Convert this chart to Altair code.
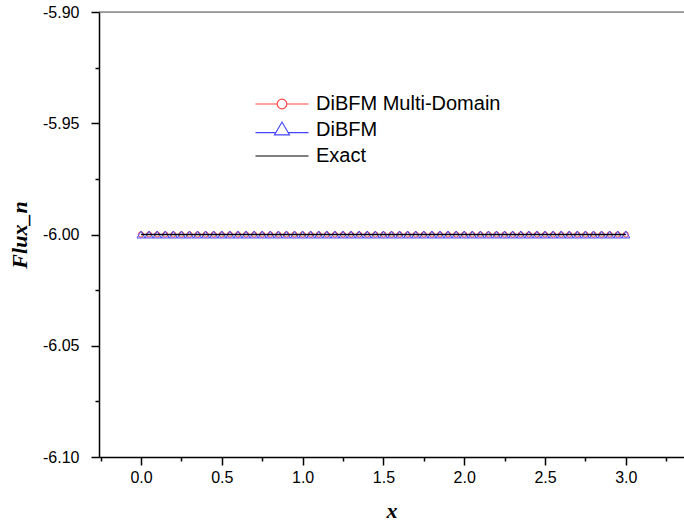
import altair as alt
import pandas as pd

# ---- data ----
x_vals = [0.00, 0.05, 0.10, 0.15, 0.20, 0.25, 0.30, 0.35, 0.40, 0.45,
          0.50, 0.55, 0.60, 0.65, 0.70, 0.75, 0.80, 0.85, 0.90, 0.95,
          1.00, 1.05, 1.10, 1.15, 1.20, 1.25, 1.30, 1.35, 1.40, 1.45,
          1.50, 1.55, 1.60, 1.65, 1.70, 1.75, 1.80, 1.85, 1.90, 1.95,
          2.00, 2.05, 2.10, 2.15, 2.20, 2.25, 2.30, 2.35, 2.40, 2.45,
          2.50, 2.55, 2.60, 2.65, 2.70, 2.75, 2.80, 2.85, 2.90, 2.95,
          3.00]
multi_domain = [-6.00, -6.00, -6.00, -6.00, -6.00, -6.00, -6.00, -6.00, -6.00, -6.00,
                -6.00, -6.00, -6.00, -6.00, -6.00, -6.00, -6.00, -6.00, -6.00, -6.00,
                -6.00, -6.00, -6.00, -6.00, -6.00, -6.00, -6.00, -6.00, -6.00, -6.00,
                -6.00, -6.00, -6.00, -6.00, -6.00, -6.00, -6.00, -6.00, -6.00, -6.00,
                -6.00, -6.00, -6.00, -6.00, -6.00, -6.00, -6.00, -6.00, -6.00, -6.00,
                -6.00, -6.00, -6.00, -6.00, -6.00, -6.00, -6.00, -6.00, -6.00, -6.00,
                -6.00]
dibfm = [-6.00, -6.00, -6.00, -6.00, -6.00, -6.00, -6.00, -6.00, -6.00, -6.00,
         -6.00, -6.00, -6.00, -6.00, -6.00, -6.00, -6.00, -6.00, -6.00, -6.00,
         -6.00, -6.00, -6.00, -6.00, -6.00, -6.00, -6.00, -6.00, -6.00, -6.00,
         -6.00, -6.00, -6.00, -6.00, -6.00, -6.00, -6.00, -6.00, -6.00, -6.00,
         -6.00, -6.00, -6.00, -6.00, -6.00, -6.00, -6.00, -6.00, -6.00, -6.00,
         -6.00, -6.00, -6.00, -6.00, -6.00, -6.00, -6.00, -6.00, -6.00, -6.00,
         -6.00]
exact_x = [0.00, 3.00]
exact_y = [-6.00, -6.00]

series_names = ["DiBFM Multi-Domain", "DiBFM", "Exact"]
series_colors = ["#ff4444", "#4444ff", "#000000"]

x_major = [0.0, 0.5, 1.0, 1.5, 2.0, 2.5, 3.0]
x_minor = [-0.25, 0.25, 0.75, 1.25, 1.75, 2.25, 2.75, 3.25]
y_major = [-6.10, -6.05, -6.00, -5.95, -5.90]
y_minor = [-6.075, -6.025, -5.975, -5.925]

df = pd.DataFrame({"x": x_vals, "multi": multi_domain, "dibfm": dibfm})
df_exact = pd.DataFrame({"x": exact_x, "y": exact_y})
df_leg = pd.DataFrame({"series": series_names, "x": [0.0, 0.0, 0.0], "y": [-6.0, -6.0, -6.0]})

W, H = 585, 445
xs = alt.Scale(domain=[-0.26, 3.36], nice=False, zero=False)
ys = alt.Scale(domain=[-6.10, -5.90], nice=False, zero=False)

tick_font = "Liberation Sans"
title_font = "Liberation Serif"

x_axis_major = alt.Axis(values=x_major, format=".1f", orient="bottom", tickSize=8, tickWidth=1.5,
                        domainWidth=1.5, domainColor="black", tickColor="black", labelColor="black",
                        labelFont=tick_font, labelFontSize=16, labelPadding=4, grid=False,
                        title="x", titleFont=title_font, titleFontSize=22, titleFontStyle="italic",
                        titleFontWeight="bold", titleColor="black", titleBaseline="alphabetic",
                        titleY=60)
y_axis_major = alt.Axis(values=y_major, orient="left", tickSize=8, tickWidth=1.5,
                        labelExpr="'-' + format(abs(datum.value), '.2f')",
                        domainWidth=1.5, domainColor="black", tickColor="black", labelColor="black",
                        labelFont=tick_font, labelFontSize=16, labelPadding=12, grid=False,
                        title="Flux_n", titleFont=title_font, titleFontSize=22, titleFontStyle="italic",
                        titleFontWeight="bold", titleColor="black", titleX=-68)
x_axis_minor = alt.Axis(values=x_minor, orient="bottom", tickSize=4, tickWidth=1.5, tickColor="black",
                        labels=False, domain=False, grid=False, title=None)
y_axis_minor = alt.Axis(values=y_minor, orient="left", tickSize=4, tickWidth=1.5, tickColor="black",
                        labels=False, domain=False, grid=False, title=None)

red_line = alt.Chart(df).mark_line(color=series_colors[0], strokeWidth=1).encode(
    x=alt.X("x:Q", scale=xs, axis=x_axis_major),
    y=alt.Y("multi:Q", scale=ys, axis=y_axis_major),
)
blue_line = alt.Chart(df).mark_line(color=series_colors[1], strokeWidth=1).encode(
    x=alt.X("x:Q", scale=xs, axis=x_axis_minor),
    y=alt.Y("dibfm:Q", scale=ys, axis=y_axis_minor),
)
red_pts = alt.Chart(df).mark_point(shape="circle", color=series_colors[0], filled=False,
                                   size=28, strokeWidth=1, opacity=1).encode(
    x=alt.X("x:Q", scale=xs, axis=None),
    y=alt.Y("multi:Q", scale=ys, axis=None),
)
blue_pts = alt.Chart(df).mark_point(shape="triangle-up", color=series_colors[1], filled=False,
                                    size=64, strokeWidth=1, opacity=1).encode(
    x=alt.X("x:Q", scale=xs, axis=None),
    y=alt.Y("dibfm:Q", scale=ys, axis=None),
)
black_line = alt.Chart(df_exact).mark_line(color="black", strokeWidth=1.5).encode(
    x=alt.X("x:Q", scale=xs, axis=None),
    y=alt.Y("y:Q", scale=ys, axis=None),
)

# legend symbols: nominal size 26px, drawn paths extend to about 53px wide
legend_shapes = [
    "M-2.04,0H-0.37M0.37,0H2.04M-0.37,0A0.37,0.37,0,1,1,0.37,0A0.37,0.37,0,1,1,-0.37,0Z",
    "M-2.04,0.2H-0.47M0.47,0.2H2.04M-0.57,0.37L0,-0.61L0.57,0.37Z",
    "M-2.04,0H2.04",
]
legend_layer = alt.Chart(df_leg).transform_filter("false").mark_point(filled=False, strokeWidth=1.2, opacity=1).encode(
    x=alt.X("x:Q", scale=xs, axis=None),
    y=alt.Y("y:Q", scale=ys, axis=None),
    color=alt.Color("series:N", scale=alt.Scale(domain=series_names, range=series_colors),
                    legend=alt.Legend(title=None, orient="none", legendX=169, legendY=78,
                                      symbolSize=676, symbolStrokeWidth=1.2, labelFont=tick_font,
                                      labelFontSize=20, labelColor="black", labelOffset=20,
                                      labelLimit=0, rowPadding=2, padding=0,
                                      symbolFillColor="transparent")),
    shape=alt.Shape("series:N", scale=alt.Scale(domain=series_names, range=legend_shapes)),
)

top_border = alt.Chart(pd.DataFrame({"a": [0]})).mark_rule(color="#555555", strokeWidth=1.2).encode(
    x=alt.value(0), x2=alt.value(W), y=alt.value(0)
)

chart = alt.layer(red_line, blue_line, red_pts, blue_pts, black_line, legend_layer, top_border).resolve_axis(
    x="independent", y="independent"
).properties(
    width=W, height=H,
    autosize=alt.AutoSizeParams(type="none"),
    padding={"left": 99, "top": 12, "right": 0, "bottom": 67},
).configure_view(stroke=None).configure(background="white")

chart.save("out.html", embed_options={"renderer": "svg", "actions": False})
